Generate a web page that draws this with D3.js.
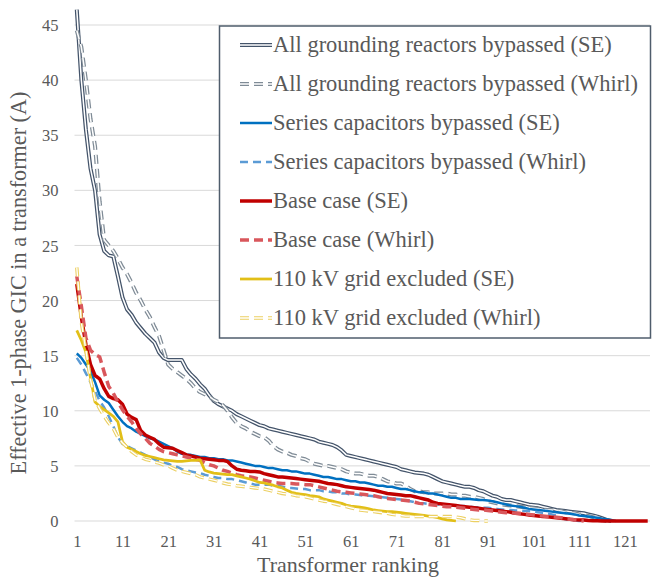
<!DOCTYPE html>
<html>
<head>
<meta charset="utf-8">
<script src="https://cdn.jsdelivr.net/npm/d3@7/dist/d3.min.js"></script>
<style>
  html, body { margin: 0; padding: 0; background: #fff; }
  svg text { font-family: "Liberation Serif", "Times New Roman", serif; fill: #595959; }
</style>
</head>
<body>
<svg id="chart" width="659" height="578"></svg>
<script>
// =============================================
//  Effective 1-phase GIC per transformer
//  ranked curves, SE vs Whirl
// =============================================

// ── Datos (valor por posición en el ranking) ────────────────────────
const RANK_TICKS = [1, 11, 21, 31, 41, 51, 61, 71, 81, 91, 101, 111, 121];
const Y_TICKS = [0, 5, 10, 15, 20, 25, 30, 35, 40, 45];

const groundingSE = [46.4,40,35.5,32,30,26,24.5,24.1,24,22.2, 20.3,19.2,18.7,18,17.5,17,16.6,16.2,15.3,14.8,
  14.6,14.6,14.6,14.6,13.8,13.3,12.9,12.4,12,11.4, 10.9,10.6,10.4,10.2,10,9.7,9.5,9.3,9.1,8.9,
  8.7,8.6,8.4,8.3,8.2,8.1,8,7.9,7.8,7.7, 7.6,7.5,7.4,7.2,7.1,7,6.9,6.7,6.4,6,
  5.9,5.8,5.7,5.6,5.5,5.4,5.3,5.2,5.1,5, 4.9,4.7,4.6,4.5,4.4,4.35,4.3,4.2,4,3.8,
  3.6,3.5,3.4,3.3,3.2,3.1,3.1,3,2.8,2.7, 2.5,2.3,2.2,2,1.9,1.9,1.8,1.7,1.6,1.5,
  1.45,1.4,1.3,1.2,1.1,1,0.95,0.9,0.85,0.8, 0.75,0.7,0.6,0.5,0.4,0.25,0.1,0];

const groundingWhirl = [44.5,43,40,36.5,34,29,25.5,25,24.5,23.8, 23,22.4,21.6,20.7,20,19.2,18.5,17.6,16.8,15.5,
  14.2,13.8,13.5,13.2,12.9,12.5,12,11.7,11.5,11.3, 11,10.8,10.5,10,9.4,8.9,8.6,8.4,8.1,7.9,
  7.7,7.6,7.3,6.8,6.5,6.3,6.2,6,5.9,5.7, 5.6,5.4,5.2,5.1,5,5,4.9,4.8,4.7,4.5,
  4.4,4.3,4.3,4.2,4.1,4.1,4,3.8,3.6,3.5, 3.4,3.4,3.2,2.9,2.7,2.7,2.6,2.6,2.5,2.5,
  2.5,2.5,2.4,2.4,2.3,2.3,2.2,2.2,2.1,2, 1.8,1.7,1.6,1.5,1.45,1.4,1.35,1.3,1.25,1.2,
  1.15,1.1,1.05,1,1,0.95,0.9,0.8,0.75,0.7, 0.6,0.55,0.45,0.35,0.2,0.1,0];

const capacitorsSE = [15.2,14.8,14.2,13.6,12.6,11.4,11,10.7,10.1,9.5, 9,8.6,8.4,8.1,7.9,7.7,7.5,7.4,7.2,7,
  6.8,6.6,6.3,6.1,6,6,5.9,5.8,5.8,5.7, 5.7,5.6,5.6,5.5,5.5,5.4,5.3,5.2,5.1,5,
  5,4.9,4.8,4.8,4.7,4.6,4.6,4.5,4.5,4.4, 4.3,4.3,4.2,4.1,4,4,3.9,3.8,3.8,3.7,
  3.6,3.6,3.5,3.5,3.4,3.3,3.2,3.2,3.1,3.1, 3,2.9,2.9,2.8,2.7,2.6,2.6,2.5,2.5,2.4,
  2.3,2.2,2.1,2.1,2,2,2,1.95,1.9,1.9, 1.85,1.8,1.7,1.6,1.5,1.4,1.35,1.3,1.2,1.1,
  1.05,1,0.95,0.9,0.85,0.8,0.75,0.7,0.65,0.6, 0.5,0.45,0.4,0.35,0.3,0.2,0.15,0.1,0];

const capacitorsWhirl = [14.8,14.2,13.4,12.6,11.8,10.9,10.3,9.5,8.6,7.6, 7,6.8,6.6,6.4,6.2,6,5.8,5.6,5.4,5.3,
  5.2,5,4.9,4.7,4.6,4.5,4.4,4.35,4.2,4.1, 4,3.9,3.9,3.8,3.8,3.7,3.6,3.5,3.4,3.3,
  3.3,3.3,3.3,3.2,3.2,3.1,3,3,2.95,2.9, 2.9,2.8,2.8,2.8,2.7,2.7,2.6,2.6,2.5,2.5,
  2.4,2.4,2.35,2.3,2.3,2.25,2.2,2.15,2.1,2.05, 2,1.95,1.9,1.8,1.7,1.6,1.6,1.55,1.5,1.5,
  1.45,1.45,1.4,1.4,1.35,1.35,1.3,1.25,1.25,1.2, 1.2,1.15,1.1,1.05,1,1,0.95,0.95,0.9,0.9,
  0.85,0.8,0.75,0.7,0.6,0.5,0.3,0.15,0.1,0.05, 0,0];

const baseSE = [21.5,18.5,16,14.2,13.2,12.9,12,11.3,11.1,11, 10.6,9.7,9.4,9.2,8.2,7.8,7.6,7.4,7,6.7,
  6.65,6.6,6.4,6.2,6,5.9,5.8,5.7,5.65,5.6, 5.55,5.5,5.5,5.4,5,4.7,4.6,4.55,4.5,4.5,
  4.45,4.3,4.2,4.1,4,4,3.95,3.9,3.85,3.8, 3.75,3.7,3.65,3.6,3.5,3.4,3.35,3.3,3.2,3.1,
  3.05,3,2.95,2.9,2.85,2.8,2.7,2.6,2.5,2.45, 2.4,2.35,2.3,2.3,2.2,2.1,2,1.9,1.7,1.6,
  1.55,1.5,1.45,1.4,1.35,1.3,1.25,1.2,1.15,1.1, 1.05,1,0.95,0.9,0.85,0.8,0.7,0.65,0.6,0.55,
  0.5,0.45,0.4,0.38,0.35,0.3,0.25,0.2,0.15,0.12, 0.1,0.08,0.05,0.03,0.02,0,0,0,0,0,
  0,0,0,0,0,0];

const baseWhirl = [22.2,19.5,16.6,15.5,15.1,14.9,13.5,12.2,11.6,10.8, 10.1,9.5,9,8.4,7.9,7.5,7.05,6.8,6.5,6.3,
  6.2,6.1,6,5.9,5.8,5.7,5.6,5.5,5.3,5.1, 5,4.8,4.6,4.5,4.35,4.2,4.1,4.05,4,3.9,
  3.8,3.7,3.6,3.5,3.45,3.4,3.4,3.4,3.35,3.35, 3.3,3.3,3.2,3.1,3,2.9,2.8,2.7,2.65,2.6,
  2.55,2.5,2.45,2.4,2.35,2.3,2.2,2.1,2.05,2, 1.95,1.9,1.85,1.8,1.7,1.6,1.55,1.5,1.45,1.4,
  1.35,1.3,1.3,1.25,1.2,1.15,1.1,1.05,1,1, 0.95,0.9,0.85,0.8,0.75,0.75,0.7,0.7,0.65,0.6,
  0.55,0.5,0.45,0.4,0.4,0.35,0.3,0.2,0.15,0.1, 0.05,0];

const excludedSE = [17.3,16.4,15.3,13,10.8,10.4,10.1,9.8,9.5,9, 7.2,6.7,6.5,6.3,6.1,5.95,5.85,5.75,5.65,5.55,
  5.5,5.45,5.4,5.4,5.45,5.5,5.5,5.55,4.6,4.45, 4.35,4.3,4.25,4.2,4.2,4.1,4,3.9,3.8,3.65,
  3.5,3.45,3.35,3.25,3.1,3,2.8,2.6,2.5,2.45, 2.4,2.3,2.25,2.2,2,1.9,1.8,1.7,1.6,1.45,
  1.35,1.3,1.25,1.2,1.1,1,0.95,0.9,0.85,0.85, 0.8,0.75,0.7,0.65,0.6,0.55,0.5,0.45,0.4,0.3,
  0.2,0.1,0.05,0];

const excludedWhirl = [23,18,15.5,12.8,11,10.2,9.5,8.9,8.4,7.6, 7.1,6.7,6.3,6,5.8,5.6,5.5,5.35,5.25,5.1,
  5,4.8,4.6,4.5,4.4,4.3,4.2,4,3.9,3.8, 3.7,3.6,3.45,3.35,3.3,3.2,3.15,3.1,3.05,3,
  2.95,2.9,2.8,2.7,2.6,2.5,2.45,2.4,2.3,2.25, 2.2,2.1,2,1.9,1.8,1.75,1.6,1.5,1.4,1.3,
  1.2,1.1,1,0.95,0.9,0.85,0.8,0.75,0.7,0.6, 0.55,0.5,0.45,0.45,0.4,0.4,0.4,0.4,0.4,0.4,
  0.4,0.4,0.4,0.35,0.3,0.2,0.1,0.05,0.05,0, 0];

// ── Series (orden de dibujo = orden de la leyenda) ──────────────────
const SERIES = [
  { name: "All grounding reactors bypassed (SE)",    values: groundingSE,     color: "#44546a", width: 4,    dash: null,  hollow: true },
  { name: "All grounding reactors bypassed (Whirl)", values: groundingWhirl,  color: "#7f8b96", width: 4,    dash: "9,5", hollow: true },
  { name: "Series capacitors bypassed (SE)",         values: capacitorsSE,    color: "#0070c0", width: 2.5,  dash: null },
  { name: "Series capacitors bypassed (Whirl)",      values: capacitorsWhirl, color: "#5b9bd5", width: 2.5,  dash: "8,5" },
  { name: "Base case (SE)",                          values: baseSE,          color: "#c00000", width: 3.5,  dash: null },
  { name: "Base case (Whirl)",                       values: baseWhirl,       color: "#d9575c", width: 3.5,  dash: "9,5" },
  { name: "110 kV grid excluded (SE)",               values: excludedSE,      color: "#e2bf17", width: 2.75, dash: null },
  { name: "110 kV grid excluded (Whirl)",            values: excludedWhirl,   color: "#ecd063", width: 3.5,  dash: "9,5", hollow: true }
];

const FONT = "'Liberation Serif', 'Times New Roman', serif";

// ── SVG setup ───────────────────────────────────────────────────────
const svg = d3.select("#chart");
const N_RANKS = 126;

const x = d3.scaleLinear().domain([0.5, N_RANKS + 0.5]).range([74.5, 650]);
const y = d3.scaleLinear().domain([0, 45]).range([521, 25]);

// Gridlines
svg.append("g").selectAll("line")
  .data(Y_TICKS)
  .join("line")
  .attr("x1", x.range()[0]).attr("x2", x.range()[1])
  .attr("y1", d => y(d)).attr("y2", d => y(d))
  .attr("stroke", "#d9d9d9").attr("stroke-width", 1);

// Ejes
const yAxis = svg.append("g")
  .attr("transform", `translate(${x.range()[0] - 16},0)`)
  .call(d3.axisLeft(y).tickValues(Y_TICKS).tickSize(0).tickPadding(0));
yAxis.select(".domain").remove();
yAxis.attr("font-family", FONT);
yAxis.selectAll("text")
  .attr("font-size", 16.5).attr("dy", "0.34em");

const xAxis = svg.append("g")
  .attr("transform", `translate(0,${y(0) + 14})`)
  .call(d3.axisBottom(x).tickValues(RANK_TICKS).tickFormat(d3.format("d")).tickSize(0).tickPadding(0));
xAxis.select(".domain").remove();
xAxis.attr("font-family", FONT);
xAxis.selectAll("text")
  .attr("font-size", 16.5).attr("dy", "0.71em");

// Titulos
svg.append("text")
  .attr("x", 348).attr("y", 572)
  .attr("text-anchor", "middle")
  .attr("font-family", FONT)
  .attr("font-size", 22)
  .text("Transformer ranking");

svg.append("text")
  .attr("transform", "translate(26,283) rotate(-90)")
  .attr("text-anchor", "middle")
  .attr("font-family", FONT)
  .attr("font-size", 22.2)
  .text("Effective 1-phase GIC in a transformer (A)");

// ── Lineas ──────────────────────────────────────────────────────────
const line = d3.line()
  .x((d, i) => x(i + 1))
  .y(d => y(d));

function drawStroke(g, s, pathFn) {
  g.append("path")
    .attr("d", pathFn)
    .attr("fill", "none")
    .attr("stroke", s.color)
    .attr("stroke-width", s.width)
    .attr("stroke-dasharray", s.dash)
    .attr("stroke-linejoin", "round");
  if (s.hollow) {
    g.append("path")
      .attr("d", pathFn)
      .attr("fill", "none")
      .attr("stroke", "#fff")
      .attr("stroke-width", s.width * 0.38)
      .attr("stroke-dasharray", s.dash)
      .attr("stroke-linejoin", "round");
  }
}

const gLines = svg.append("g").attr("class", "lines");
SERIES.forEach(s => {
  drawStroke(gLines.append("g"), s, line(s.values));
});

// ── Leyenda ─────────────────────────────────────────────────────────
const legend = svg.append("g").attr("class", "legend");
legend.append("rect")
  .attr("x", 219.5).attr("y", 26)
  .attr("width", 431).attr("height", 312)
  .attr("fill", "#fff")
  .attr("stroke", "#4f5d6c").attr("stroke-width", 1.5);

SERIES.forEach((s, i) => {
  const ly = 45 + i * 39;
  const row = legend.append("g");
  drawStroke(row, s, `M240,${ly}L272,${ly}`);
  row.append("text")
    .attr("x", 273).attr("y", ly)
    .attr("dy", "0.3em")
    .attr("font-family", FONT)
    .attr("font-size", 22.5)
    .text(s.name);
});
</script>
</body>
</html>
